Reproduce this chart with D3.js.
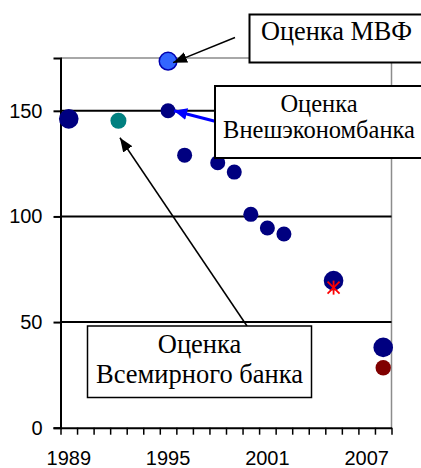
<!DOCTYPE html>
<html>
  <head>
    <meta charset="UTF-8" />
    <title>Оценки</title>
    <script src="https://d3js.org/d3.v7.min.js"></script>
    <style>
      body {
        margin: 0;
        background: #fff;
      }
      .axis text {
        font-family: "Liberation Sans", Arial, sans-serif;
        font-size: 20px;
        fill: #000;
      }
      .note text {
        font-family: "Liberation Serif", "Times New Roman", serif;
        fill: #000;
      }
    </style>
  </head>
  <body>
    <div id="chart"></div>
    <script>
      // categories (one per year, 1989..2008)
      const years = d3.range(1989, 2009).map(String);
      const yearLabels = ["1989", "1995", "2001", "2007"];
      const yTicks = [0, 50, 100, 150];
      const yMax = 175;

      // series
      const mainSeries = [
        { year: "1995", value: 150 },
        { year: "1996", value: 129 },
        { year: "1998", value: 125.4 },
        { year: "1999", value: 121 },
        { year: "2000", value: 101 },
        { year: "2001", value: 94.5 },
        { year: "2002", value: 91.7 },
      ];
      const bigSeries = [
        { year: "1989", value: 146.2 },
        { year: "2005", value: 69.6 },
        { year: "2008", value: 38 },
      ];
      const imfSeries = [{ year: "1995", value: 173.5 }];
      const wbSeries = [{ year: "1992", value: 145.3 }];
      const redSeries = [{ year: "2008", value: 28.4 }];
      const starSeries = [{ year: "2005", value: 66.3 }];

      const width = 421;
      const height = 468;
      const plot = { left: 60.5, right: 391.5, top: 58, bottom: 427.7 };

      const svg = d3
        .select("#chart")
        .append("svg")
        .attr("width", width)
        .attr("height", height);

      const x = d3
        .scaleBand()
        .domain(years)
        .range([plot.left, plot.right])
        .padding(0);
      const xEdge = d3
        .scaleLinear()
        .domain([0, years.length])
        .range([plot.left, plot.right]);
      const y = d3
        .scaleLinear()
        .domain([0, yMax])
        .range([plot.bottom, plot.top]);
      const cx = (d) => x(d.year) + x.bandwidth() / 2;
      const cy = (d) => y(d.value);

      const defs = svg.append("defs");
      function arrowHead(id, color, len, wid) {
        defs
          .append("marker")
          .attr("id", id)
          .attr("markerUnits", "userSpaceOnUse")
          .attr("viewBox", `0 0 ${len} ${wid}`)
          .attr("refX", len)
          .attr("refY", wid / 2)
          .attr("markerWidth", len)
          .attr("markerHeight", wid)
          .attr("orient", "auto")
          .append("path")
          .attr("d", `M0,0L${len},${wid / 2}L0,${wid}Z`)
          .attr("fill", color);
      }
      arrowHead("ahBlack", "#000", 14, 11);
      arrowHead("ahBlue", "#0000ff", 13, 12);

      // top and right frame (grey)
      svg
        .append("path")
        .attr(
          "d",
          `M${plot.left},${plot.top}H${plot.right}V${plot.bottom}`
        )
        .attr("fill", "none")
        .attr("stroke", "#8c8c8c")
        .attr("stroke-width", 1.5);

      // gridlines
      svg
        .append("g")
        .selectAll("line")
        .data(yTicks.filter((d) => d > 0))
        .enter()
        .append("line")
        .attr("x1", plot.left)
        .attr("x2", plot.right)
        .attr("y1", (d) => y(d))
        .attr("y2", (d) => y(d))
        .attr("stroke", "#000")
        .attr("stroke-width", 2);

      // y axis
      const yAxis = svg
        .append("g")
        .attr("class", "axis")
        .attr("transform", `translate(${plot.left},0)`)
        .call(d3.axisLeft(y).tickValues(yTicks).tickSize(7).tickPadding(11));
      yAxis.select(".domain").attr("stroke", "#000").attr("stroke-width", 2);
      yAxis.selectAll(".tick line").attr("stroke", "#000").attr("stroke-width", 2);

      // x axis: tick marks between categories
      const xTicks = svg
        .append("g")
        .attr("class", "axis")
        .attr("transform", `translate(0,${plot.bottom})`)
        .call(
          d3
            .axisBottom(xEdge)
            .tickValues(d3.range(years.length + 1))
            .tickFormat("")
            .tickSize(7)
            .tickSizeOuter(0)
        );
      xTicks.select(".domain").attr("stroke", "#000").attr("stroke-width", 2);
      xTicks.selectAll(".tick line").attr("stroke", "#000").attr("stroke-width", 1.5);

      // x labels on category centres
      const xLab = svg
        .append("g")
        .attr("class", "axis")
        .attr("transform", `translate(0,${plot.bottom})`)
        .call(
          d3
            .axisBottom(x)
            .tickValues(yearLabels)
            .tickSize(0)
            .tickPadding(23.5)
        );
      xLab.select(".domain").remove();

      // points
      function dots(data, r, fill, stroke, sw) {
        svg
          .append("g")
          .selectAll("circle")
          .data(data)
          .enter()
          .append("circle")
          .attr("cx", cx)
          .attr("cy", cy)
          .attr("r", r)
          .attr("fill", fill)
          .attr("stroke", stroke || "none")
          .attr("stroke-width", sw || 0);
      }
      dots(bigSeries, 9.8, "#000080");
      dots(mainSeries, 7.5, "#000080");
      dots(wbSeries, 8, "#008080");
      dots(redSeries, 7.7, "#800000");
      dots(imfSeries, 8.8, "#3366ff", "#0000b0", 1.5);

      // red star marker
      const star = svg
        .append("g")
        .selectAll("g")
        .data(starSeries)
        .enter()
        .append("g")
        .attr("transform", (d) => `translate(${cx(d)},${cy(d)})`)
        .attr("stroke", "#ff0000")
        .attr("stroke-width", 1.8);
      star.append("line").attr("x1", -6).attr("y1", -6).attr("x2", 6).attr("y2", 6);
      star.append("line").attr("x1", -6).attr("y1", 6).attr("x2", 6).attr("y2", -6);
      star.append("line").attr("x1", 0).attr("y1", -7).attr("x2", 0).attr("y2", 7);

      // arrows
      const imf = imfSeries[0];
      const veb = mainSeries[0];
      const wb = wbSeries[0];
      svg
        .append("line")
        .attr("x1", 235)
        .attr("y1", 37.5)
        .attr("x2", cx(imf) + 5)
        .attr("y2", cy(imf) + 1.5)
        .attr("stroke", "#000")
        .attr("stroke-width", 1.5)
        .attr("marker-end", "url(#ahBlack)");
      svg
        .append("line")
        .attr("x1", 216)
        .attr("y1", 121.5)
        .attr("x2", cx(veb) + 6)
        .attr("y2", cy(veb))
        .attr("stroke", "#0000ff")
        .attr("stroke-width", 3)
        .attr("marker-end", "url(#ahBlue)");
      svg
        .append("line")
        .attr("x1", 247)
        .attr("y1", 326)
        .attr("x2", cx(wb) + 1.5)
        .attr("y2", cy(wb) + 17)
        .attr("stroke", "#000")
        .attr("stroke-width", 1.5)
        .attr("marker-end", "url(#ahBlack)");

      // note boxes
      function note(bx, by, bw, bh, sw, fs, lines, anchor, tx, baselines) {
        const g = svg.append("g").attr("class", "note");
        g.append("rect")
          .attr("x", bx)
          .attr("y", by)
          .attr("width", bw)
          .attr("height", bh)
          .attr("fill", "#fff")
          .attr("stroke", "#000")
          .attr("stroke-width", sw);
        lines.forEach((t, i) => {
          g.append("text")
            .attr("x", tx)
            .attr("y", baselines[i])
            .attr("text-anchor", anchor)
            .attr("font-size", fs)
            .text(t);
        });
      }
      note(249.5, 14.5, 180, 48, 2, 26.3, ["Оценка МВФ"], "start", 261, [39.5]);
      note(215, 86, 210, 72, 2, 24.5, ["Оценка", "Внешэкономбанка"], "middle", 319, [111.5, 137.5]);
      note(87.5, 326, 224, 71.5, 1.5, 26.5, ["Оценка", "Всемирного банка"], "middle", 199.5, [352.5, 383]);
    </script>
  </body>
</html>
